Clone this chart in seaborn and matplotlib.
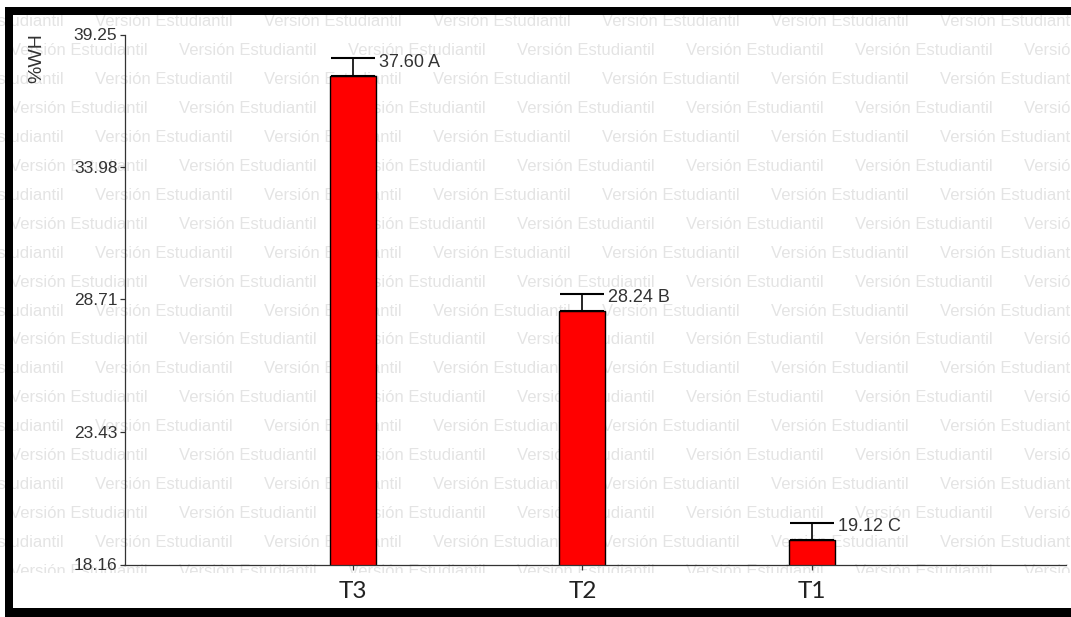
import matplotlib
matplotlib.use("Agg")
import matplotlib.pyplot as plt
from matplotlib.patches import Rectangle
import pandas as pd
import seaborn as sns

# datos del gráfico
tratamientos = ["T3", "T2", "T1"]
medias = [37.60, 28.24, 19.12]
errores = [0.70, 0.69, 0.70]
letras = ["A", "B", "C"]
y_ticks = [18.16, 23.43, 28.71, 33.98, 39.25]

W, H = 1071, 617

sns.set_style("ticks")
plt.rcParams["font.family"] = ["Liberation Sans", "DejaVu Sans"]

df = pd.DataFrame({"trat": tratamientos, "wh": medias})

fig = plt.figure(figsize=(W / 100, H / 100), dpi=100)
fig.patch.set_facecolor("white")


def fx(x):
    return x / W


def fy(y):
    return 1 - y / H


# marca de agua "Versión Estudiantil"
for k in range(20):
    y = 22 + 28.9 * k
    x0 = -74 if k % 2 == 0 else -159
    for j in range(8):
        fig.text(fx(x0 + 169 * j), fy(y), "Versión Estudiantil", fontsize=12,
                 color="#e4e4e4", ha="left", va="center", zorder=-2)

# la marca de agua se corta justo debajo del eje
fig.add_artist(Rectangle((0, 0), 1, fy(573), transform=fig.transFigure,
                         facecolor="white", edgecolor="none", zorder=-1))

ax = fig.add_axes([fx(124.5), fy(564.5), fx(1066) - fx(124.5), fy(34.5) - fy(564.5)])
ax.patch.set_visible(False)

sns.barplot(data=df, x="trat", y="wh", order=tratamientos, color="red",
            saturation=1, width=0.2, edgecolor="black", linewidth=1,
            errorbar=None, ax=ax)

ax.errorbar(range(len(medias)), medias, yerr=[[0] * len(errores), errores],
            fmt="none", ecolor="black", elinewidth=1.2, capsize=16, capthick=1.5)

for i, (m, e, l) in enumerate(zip(medias, errores, letras)):
    ax.annotate(f"{m:.2f} {l}", xy=(i + 0.1, m + e), xytext=(3, -4),
                textcoords="offset pixels", ha="left", va="center",
                fontsize=13, color="#333333")

ax.set_xlim(-0.998, 3.11)
ax.set_ylim(y_ticks[0], y_ticks[-1])
ax.set_yticks(y_ticks)
ax.set_yticklabels([f"{v:.2f}" for v in y_ticks], fontsize=12.5, color="#333333")
ax.set_xticks(range(len(tratamientos)))
ax.set_xticklabels(tratamientos, fontsize=17.5, family="Lato", color="#222222")
ax.tick_params(axis="y", length=3.6, width=0.9, color="#333333", pad=1.5)
ax.tick_params(axis="x", length=3.6, width=0.9, color="#333333", pad=8)

ax.set_xlabel("")
ax.set_ylabel("%WH", fontsize=14, color="#333333")
ax.yaxis.set_label_coords(-0.0845, 0.955)

sns.despine(ax=ax)
for s in ["left", "bottom"]:
    ax.spines[s].set_color("#333333")
    ax.spines[s].set_linewidth(0.9)

# marco negro
for (x, y, w, h) in [(5, 7, 8, 610), (5, 7, 1066, 8), (5, 608, 1066, 9)]:
    fig.add_artist(Rectangle((fx(x), fy(y + h)), w / W, h / H,
                             transform=fig.transFigure, facecolor="black",
                             edgecolor="none", zorder=10))

fig.savefig("out.png", dpi=100)
